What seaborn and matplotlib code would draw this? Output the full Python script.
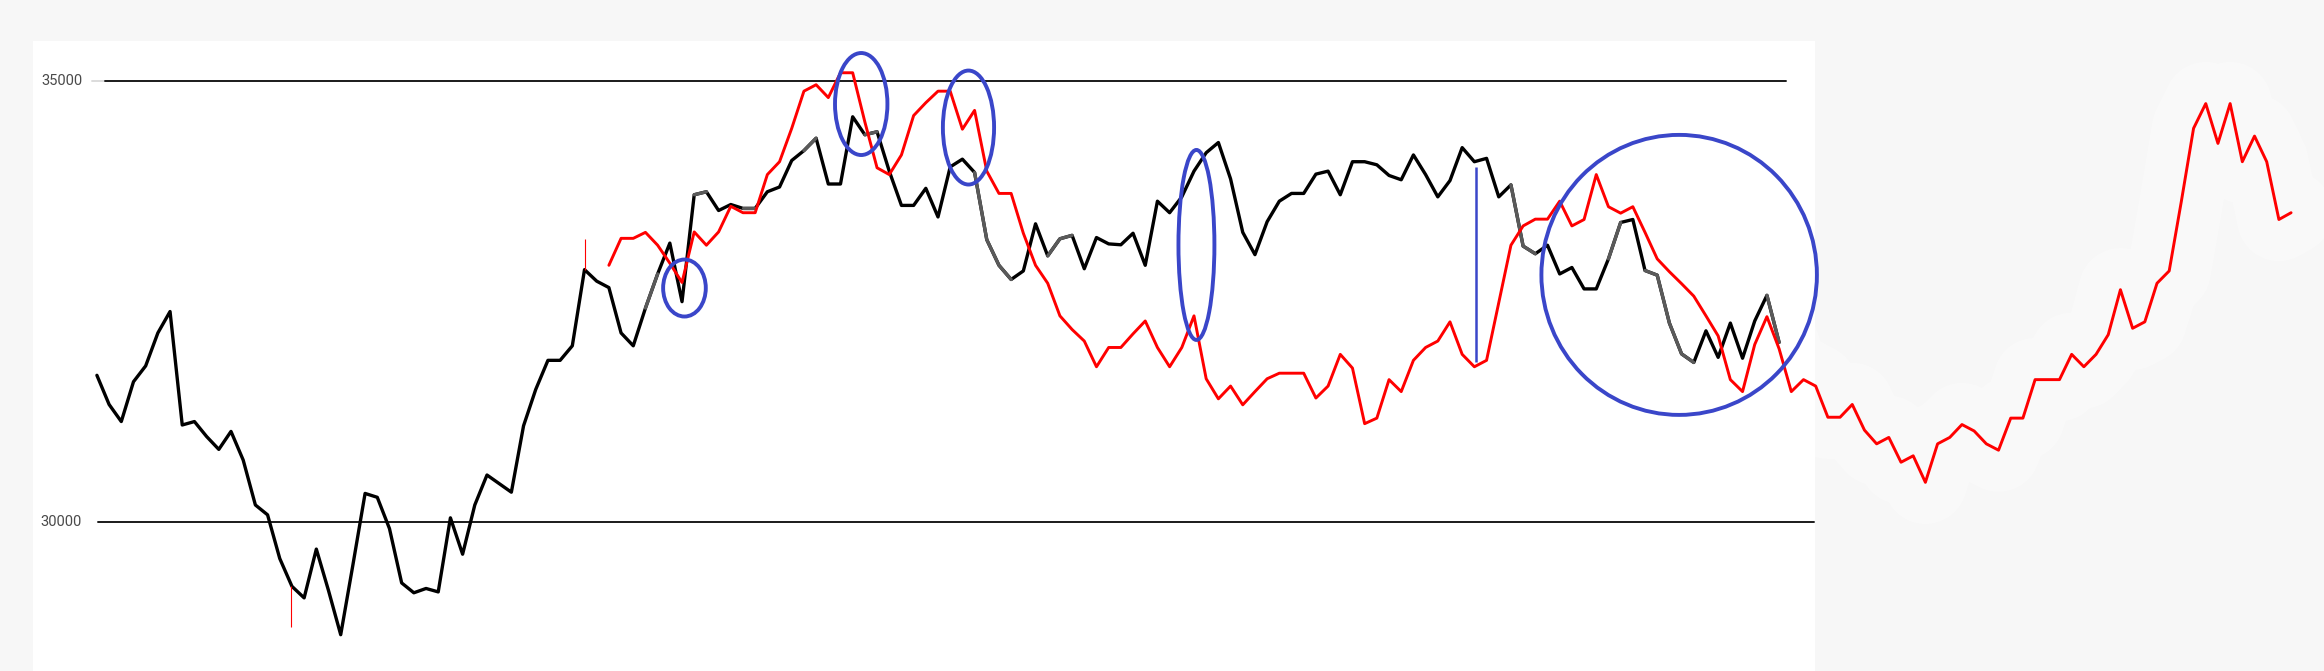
import numpy as np
import pandas as pd
import matplotlib
matplotlib.use("Agg")
import matplotlib.pyplot as plt
import seaborn as sns
from matplotlib.patches import Ellipse, Rectangle
from matplotlib.transforms import blended_transform_factory

# black series, index 0..138
black_vals = [31662, 31331, 31137, 31589, 31769, 32143, 32386, 31098, 31137, 30967,
              30821, 31025, 30700, 30190, 30078, 29582, 29266, 29135, 29689, 29218,
              28717, 29509, 30321, 30277, 29922, 29305, 29193, 29242, 29203, 30044,
              29631, 30190, 30530, 30433, 30335, 31089, 31502, 31832, 31832, 31997,
              32862, 32731, 32658, 32143, 31997, 32425, 32813, 33163, 32498, 33712,
              33746, 33533, 33601, 33557, 33557, 33746, 33800, 34101, 34213, 34354,
              33834, 33834, 34597, 34393, 34427, 33980, 33591, 33591, 33785, 33460,
              34028, 34116, 33965, 33202, 32911, 32750, 32847, 33382, 33018, 33212,
              33251, 32872, 33226, 33154, 33144, 33275, 32911, 33639, 33508, 33688,
              33980, 34189, 34305, 33892, 33285, 33032, 33406, 33639, 33727, 33727,
              33946, 33980, 33712, 34087, 34087, 34052, 33931, 33882, 34164, 33941,
              33688, 33873, 34247, 34087, 34125, 33688, 33824, 33129, 33042, 33139,
              32813, 32886, 32643, 32643, 32984, 33397, 33431, 32852, 32799, 32255,
              31905, 31808, 32167, 31866, 32255, 31856, 32279, 32570, 32036]

# red series, index 42..180
red_start = 42
red_vals = [32911, 33217, 33217, 33285, 33139, 32935, 32716, 33290, 33139, 33290,
            33581, 33508, 33508, 33941, 34087, 34466, 34888, 34961, 34815, 35097,
            35097, 34538, 34018, 33941, 34164, 34611, 34757, 34888, 34888, 34456,
            34670, 33980, 33727, 33727, 33275, 32911, 32707, 32337, 32182, 32051,
            31759, 31978, 31978, 32133, 32279, 31978, 31759, 31978, 32337, 31623,
            31395, 31540, 31327, 31477, 31623, 31686, 31686, 31686, 31404, 31540,
            31900, 31744, 31113, 31176, 31613, 31477, 31832, 31978, 32051, 32269,
            31900, 31759, 31832, 32488, 33139, 33358, 33435, 33435, 33639, 33358,
            33431, 33941, 33576, 33503, 33576, 33285, 32984, 32838, 32702, 32561,
            32337, 32109, 31613, 31477, 32012, 32328, 31963, 31477, 31613, 31540,
            31186, 31186, 31331, 31040, 30884, 30957, 30675, 30748, 30447, 30884,
            30957, 31103, 31030, 30884, 30812, 31176, 31176, 31613, 31613, 31613,
            31900, 31759, 31900, 32123, 32634, 32196, 32269, 32707, 32847, 33639,
            34466, 34747, 34295, 34747, 34087, 34378, 34087, 33431, 33508]

# stretches of the black line that look grey in the picture
grey_runs = [(45, 46), (49, 50), (53, 54), (58, 59), (63, 64), (72, 75),
             (78, 80), (116, 118), (124, 125), (127, 131), (137, 138)]

y_ticks = [30000, 35000]

# hand-drawn blue marks: (x centre, y centre, width, height)
blue_rings = [(48.2, 32653, 3.5, 647),
              (62.7, 34742, 4.3, 1158),
              (71.5, 34475, 4.2, 1294),
              (90.2, 33142, 2.95, 2157),
              (129.8, 32802, 22.6, 3179)]
blue_stroke = (113.1, 31813, 34027)
red_strokes = [(15.9, 28805, 29266), (40.0, 32862, 33209)]

black_df = pd.DataFrame({"x": np.arange(len(black_vals)), "y": black_vals})
red_df = pd.DataFrame({"x": np.arange(red_start, red_start + len(red_vals)), "y": red_vals})

sns.set_style("white")
fig = plt.figure(figsize=(23.24, 6.71), dpi=100, facecolor="#f7f7f7")
ax = fig.add_axes([0, 0, 1, 1])
ax.set_axis_off()
ax.set_xlim(-7.95, 182.7)
ax.set_ylim(28305, 35923)

# white panel of the original chart
ax.add_patch(Rectangle((33 / 2324, 0), (1815 - 33) / 2324, 1 - 41 / 671,
                       transform=ax.transAxes, facecolor="white", edgecolor="none", zorder=0))

# grid lines and labels
ax.axhline(35000, xmin=92 / 2324, xmax=104 / 2324, color="#dcdcdc", lw=1.4, zorder=1)
ax.axhline(35000, xmin=105 / 2324, xmax=1786 / 2324, color="#1a1a1a", lw=1.4, zorder=1)
ax.axhline(30000, xmin=98 / 2324, xmax=1814 / 2324, color="#1a1a1a", lw=1.4, zorder=1)
tr = blended_transform_factory(ax.transAxes, ax.transData)
for t in y_ticks:
    ax.text(82 / 2324, t, str(t), transform=tr, ha="right", va="center",
            fontsize=10.5, color="#4a4a4a", family=["Roboto", "DejaVu Sans"])

# faint glow around the red line outside the panel
tail = red_df[red_df["x"] >= 136]
ax.plot(tail["x"], tail["y"], color="white", lw=60, alpha=0.3,
        solid_capstyle="round", solid_joinstyle="round", zorder=1)

sns.lineplot(data=black_df, x="x", y="y", ax=ax, color="black", lw=2.4, zorder=3, sort=False)
for a, b in grey_runs:
    seg = black_df[(black_df["x"] >= a) & (black_df["x"] <= b)]
    ax.plot(seg["x"], seg["y"], color="#5a5a5a", lw=2.4, zorder=3.5)
sns.lineplot(data=red_df, x="x", y="y", ax=ax, color="#ff0000", lw=2.1, zorder=4, sort=False)

for x0, lo, hi in red_strokes:
    ax.vlines(x0, lo, hi, color="#ff0000", lw=0.8, zorder=4)

for cx, cy, w, h in blue_rings:
    ax.add_patch(Ellipse((cx, cy), w, h, fill=False, edgecolor="#3a46c9", lw=2.8, zorder=5))
ax.vlines(blue_stroke[0], blue_stroke[1], blue_stroke[2], color="#3a46c9", lw=1.8, zorder=5)

if ax.get_legend() is not None:
    ax.get_legend().remove()

fig.savefig("out.png", dpi=100, facecolor=fig.get_facecolor())
